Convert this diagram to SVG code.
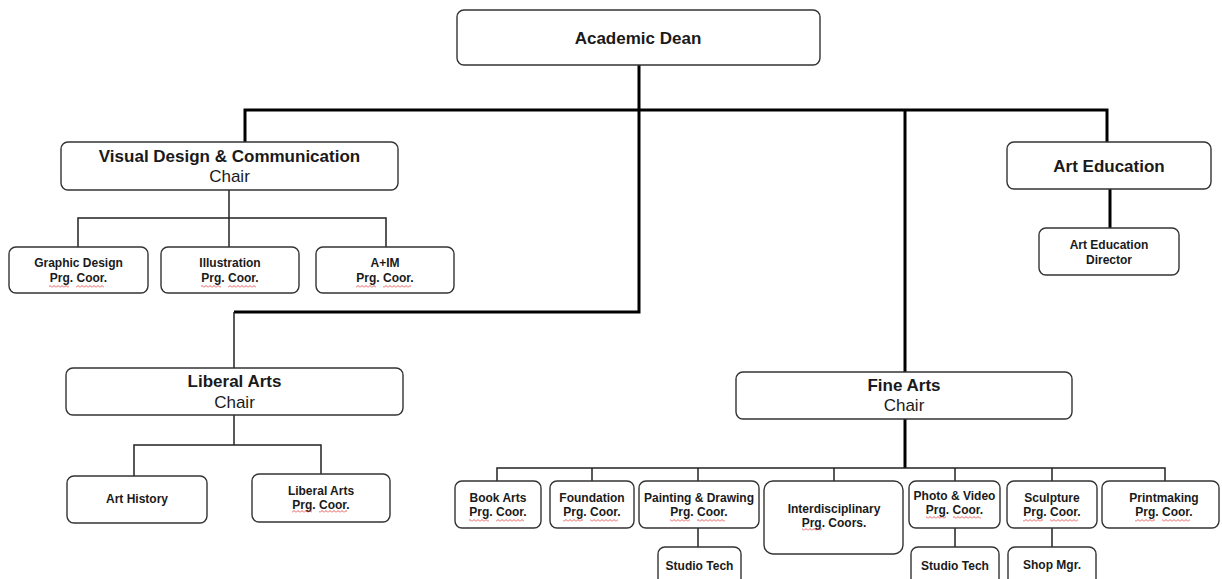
<svg xmlns="http://www.w3.org/2000/svg" width="1222" height="579" viewBox="0 0 1222 579">
  <style>
    .box { fill: #ffffff; stroke: #333333; stroke-width: 1.4; }
    .big { font-family: "Liberation Sans", Arial, sans-serif; font-size: 17px; font-weight: bold; fill: #1a1a1a; text-anchor: middle; }
    .sub { font-family: "Liberation Sans", Arial, sans-serif; font-size: 17px; fill: #1a1a1a; text-anchor: middle; }
    .sm { font-family: "Liberation Sans", Arial, sans-serif; font-size: 12px; font-weight: bold; fill: #1a1a1a; text-anchor: middle; }
    .thick { fill: none; stroke: #000000; stroke-width: 3; }
    .thin { fill: none; stroke: #222222; stroke-width: 1.5; }
    .sq { fill: url(#squiggle); }
  </style>
  <defs>
    <!-- red wavy spell-check underline -->
    <pattern id="squiggle" patternUnits="userSpaceOnUse" x="0" y="0" width="4" height="3">
      <path d="M0 2.5 L2 0.5 L4 2.5" fill="none" stroke="#e0302c" stroke-width="0.8"/>
    </pattern>
  </defs>

  <rect width="1222" height="579" fill="#ffffff"/>

  <!-- connectors -->
  <g id="connectors">
    <path class="thick" d="M639 65 V312 H234"/>
    <path class="thin" d="M234 312 V368"/>
    <path class="thick" d="M245 142 V110 H1107 V142"/>
    <path class="thick" d="M905 110 V372"/>
    <path class="thick" d="M905 419 V468"/>
    <path class="thick" d="M1110 189 V228"/>
    <!-- Visual Design & Communication children -->
    <path class="thin" d="M229 190 V218"/>
    <path class="thin" d="M78 247 V218 H386 V247"/>
    <path class="thin" d="M229 218 V247"/>
    <!-- Liberal Arts children -->
    <path class="thin" d="M234 415 V445"/>
    <path class="thin" d="M134 476 V445 H321 V474"/>
    <!-- Fine Arts children -->
    <path class="thin" d="M497 481 V468 H1165 V481"/>
    <path class="thin" d="M592 468 V481"/>
    <path class="thin" d="M698 468 V481"/>
    <path class="thin" d="M834 468 V481"/>
    <path class="thin" d="M955 468 V481"/>
    <path class="thin" d="M1052 468 V481"/>
    <path class="thin" d="M698 528 V547"/>
    <path class="thin" d="M955 528 V547"/>
    <path class="thin" d="M1052 528 V547"/>
  </g>

  <g id="academic-dean">
    <rect class="box" x="457" y="10" width="363" height="55" rx="7"/>
    <text class="big" x="638" y="44">Academic Dean</text>
  </g>

  <g id="vdc-chair">
    <rect class="box" x="61" y="142" width="337" height="48" rx="7"/>
    <text class="big" x="229.5" y="162">Visual Design &amp; Communication</text>
    <text class="sub" x="229.5" y="182">Chair</text>
  </g>

  <g id="graphic-design">
    <rect class="box" x="9" y="247" width="139" height="46" rx="7"/>
    <text class="sm" x="78.5" y="267">Graphic Design</text>
    <text class="sm" x="78.5" y="282">Prg. Coor.</text>
    <rect class="sq" x="49" y="285" width="20" height="3"/>
    <rect class="sq" x="76" y="285" width="28" height="3"/>
  </g>

  <g id="illustration">
    <rect class="box" x="161" y="247" width="138" height="46" rx="7"/>
    <text class="sm" x="230" y="267">Illustration</text>
    <text class="sm" x="230" y="282">Prg. Coor.</text>
    <rect class="sq" x="201" y="285" width="20" height="3"/>
    <rect class="sq" x="228" y="285" width="28" height="3"/>
  </g>

  <g id="a-im">
    <rect class="box" x="316" y="247" width="138" height="46" rx="7"/>
    <text class="sm" x="385" y="267">A+IM</text>
    <text class="sm" x="385" y="282">Prg. Coor.</text>
    <rect class="sq" x="356" y="285" width="20" height="3"/>
    <rect class="sq" x="383" y="285" width="28" height="3"/>
  </g>

  <g id="art-education">
    <rect class="box" x="1007" y="142" width="204" height="47" rx="7"/>
    <text class="big" x="1109" y="172">Art Education</text>
  </g>

  <g id="art-education-director">
    <rect class="box" x="1039" y="228" width="140" height="47" rx="7"/>
    <text class="sm" x="1109" y="249">Art Education</text>
    <text class="sm" x="1109" y="264">Director</text>
  </g>

  <g id="liberal-arts-chair">
    <rect class="box" x="66" y="368" width="337" height="47" rx="7"/>
    <text class="big" x="234.5" y="387">Liberal Arts</text>
    <text class="sub" x="234.5" y="408">Chair</text>
  </g>

  <g id="art-history">
    <rect class="box" x="67" y="476" width="140" height="47" rx="7"/>
    <text class="sm" x="137" y="503">Art History</text>
  </g>

  <g id="liberal-arts-coor">
    <rect class="box" x="252" y="474" width="138" height="48" rx="7"/>
    <text class="sm" x="321" y="495">Liberal Arts</text>
    <text class="sm" x="321" y="509">Prg. Coor.</text>
    <rect class="sq" x="292" y="510" width="20" height="3"/>
    <rect class="sq" x="319" y="510" width="28" height="3"/>
  </g>

  <g id="fine-arts-chair">
    <rect class="box" x="736" y="372" width="336" height="47" rx="7"/>
    <text class="big" x="904" y="391">Fine Arts</text>
    <text class="sub" x="904" y="411">Chair</text>
  </g>

  <g id="book-arts">
    <rect class="box" x="455" y="481" width="86" height="47" rx="7"/>
    <text class="sm" x="498" y="502">Book Arts</text>
    <text class="sm" x="498" y="516">Prg. Coor.</text>
    <rect class="sq" x="469" y="519" width="20" height="3"/>
    <rect class="sq" x="496" y="519" width="28" height="3"/>
  </g>

  <g id="foundation">
    <rect class="box" x="550" y="481" width="84" height="47" rx="7"/>
    <text class="sm" x="592" y="502">Foundation</text>
    <text class="sm" x="592" y="516">Prg. Coor.</text>
    <rect class="sq" x="563" y="519" width="20" height="3"/>
    <rect class="sq" x="590" y="519" width="28" height="3"/>
  </g>

  <g id="painting-drawing">
    <rect class="box" x="639" y="481" width="120" height="47" rx="7"/>
    <text class="sm" x="699" y="502">Painting &amp; Drawing</text>
    <text class="sm" x="699" y="516">Prg. Coor.</text>
    <rect class="sq" x="670" y="519" width="20" height="3"/>
    <rect class="sq" x="697" y="519" width="28" height="3"/>
  </g>

  <g id="interdisciplinary">
    <rect class="box" x="764" y="481" width="139" height="73" rx="9"/>
    <text class="sm" x="834" y="513">Interdisciplinary</text>
    <text class="sm" x="834" y="527">Prg. Coors.</text>
    <rect class="sq" x="802" y="528" width="20" height="3"/>
  </g>

  <g id="photo-video">
    <rect class="box" x="909" y="481" width="91" height="47" rx="7"/>
    <text class="sm" x="954.5" y="500">Photo &amp; Video</text>
    <text class="sm" x="954.5" y="514">Prg. Coor.</text>
    <rect class="sq" x="926" y="516" width="20" height="3"/>
    <rect class="sq" x="953" y="516" width="28" height="3"/>
  </g>

  <g id="sculpture">
    <rect class="box" x="1007" y="481" width="90" height="47" rx="7"/>
    <text class="sm" x="1052" y="502">Sculpture</text>
    <text class="sm" x="1052" y="516">Prg. Coor.</text>
    <rect class="sq" x="1023" y="519" width="20" height="3"/>
    <rect class="sq" x="1050" y="519" width="28" height="3"/>
  </g>

  <g id="printmaking">
    <rect class="box" x="1102" y="481" width="117" height="47" rx="7"/>
    <text class="sm" x="1164" y="502">Printmaking</text>
    <text class="sm" x="1164" y="516">Prg. Coor.</text>
    <rect class="sq" x="1135" y="519" width="20" height="3"/>
    <rect class="sq" x="1162" y="519" width="28" height="3"/>
  </g>

  <g id="studio-tech-painting">
    <rect class="box" x="658" y="547" width="83" height="45" rx="7"/>
    <text class="sm" x="699.5" y="570">Studio Tech</text>
  </g>

  <g id="studio-tech-photo">
    <rect class="box" x="911" y="547" width="88" height="45" rx="7"/>
    <text class="sm" x="955" y="570">Studio Tech</text>
  </g>

  <g id="shop-manager">
    <rect class="box" x="1008" y="547" width="88" height="45" rx="7"/>
    <text class="sm" x="1052" y="569">Shop Mgr.</text>
  </g>
</svg>
